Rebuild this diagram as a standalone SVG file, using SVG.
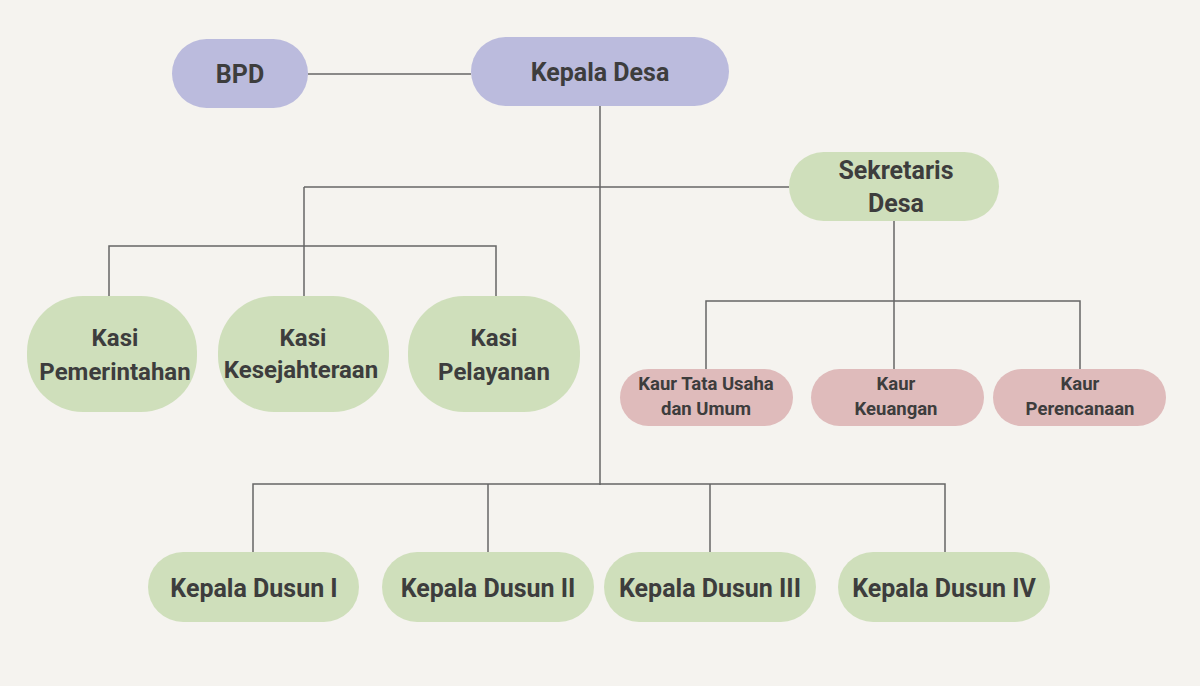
<svg xmlns="http://www.w3.org/2000/svg" width="1200" height="686" viewBox="0 0 1200 686">
<style>
.bg{fill:#f5f3ef}
.p{fill:#bbbbdd}
.g{fill:#cfdfbb}
.k{fill:#dfbbbb}
text{font-family:Roboto,"Liberation Sans",sans-serif;font-weight:bold;fill:#3d3d3d;text-anchor:middle;dominant-baseline:central}
.t{font-size:25px}
.m{font-size:24px}
.s{font-size:18.5px}
#connectors path{fill:none;stroke:#666;stroke-width:1.5}
</style>
<rect class="bg" x="0" y="0" width="1200" height="686"/>
<g id="connectors">
<path d="M308 74H471"/>
<path d="M600 106V485"/>
<path d="M304 187H789"/>
<path d="M304 187V296"/>
<path d="M109 296V246H496V296"/>
<path d="M894 221V369"/>
<path d="M706 369V301H1080V369"/>
<path d="M253 552V484H945V552"/>
<path d="M488 484V552"/>
<path d="M710 484V552"/>
</g>
<g id="bpd"><rect class="p" x="172" y="39" width="136" height="69" rx="34.5"/><text class="t" x="240" y="74">BPD</text></g>
<g id="kepala-desa"><rect class="p" x="471" y="37" width="258" height="69" rx="34.5"/><text class="t" x="600" y="72">Kepala Desa</text></g>
<g id="sekretaris"><rect class="g" x="789" y="152" width="210" height="69" rx="34.5"/><text class="t" x="896" y="170">Sekretaris</text><text class="t" x="896" y="203">Desa</text></g>
<g id="kasi-pemerintahan"><rect class="g" x="27" y="296" width="170" height="116" rx="56"/><text class="m" x="115" y="338">Kasi</text><text class="m" x="115" y="372">Pemerintahan</text></g>
<g id="kasi-kesejahteraan"><rect class="g" x="218" y="296" width="171" height="116" rx="56"/><text class="m" x="303" y="338">Kasi</text><text class="m" x="301" y="370">Kesejahteraan</text></g>
<g id="kasi-pelayanan"><rect class="g" x="408" y="296" width="172" height="116" rx="56"/><text class="m" x="494" y="338">Kasi</text><text class="m" x="494" y="372">Pelayanan</text></g>
<g id="kaur-tu"><rect class="k" x="620" y="369" width="173" height="57" rx="28.5"/><text class="s" x="706" y="384">Kaur Tata Usaha</text><text class="s" x="706" y="409">dan Umum</text></g>
<g id="kaur-keuangan"><rect class="k" x="811" y="369" width="173" height="57" rx="28.5"/><text class="s" x="896" y="384">Kaur</text><text class="s" x="896" y="409">Keuangan</text></g>
<g id="kaur-perencanaan"><rect class="k" x="993" y="369" width="173" height="57" rx="28.5"/><text class="s" x="1080" y="384">Kaur</text><text class="s" x="1080" y="409">Perencanaan</text></g>
<g id="dusun-1"><rect class="g" x="148" y="552" width="211" height="70" rx="35"/><text class="t" x="254" y="588">Kepala Dusun I</text></g>
<g id="dusun-2"><rect class="g" x="382" y="552" width="212" height="70" rx="35"/><text class="t" x="488" y="588">Kepala Dusun II</text></g>
<g id="dusun-3"><rect class="g" x="604" y="552" width="212" height="70" rx="35"/><text class="t" x="710" y="588">Kepala Dusun III</text></g>
<g id="dusun-4"><rect class="g" x="838" y="552" width="212" height="70" rx="35"/><text class="t" x="944" y="588">Kepala Dusun IV</text></g>
</svg>
